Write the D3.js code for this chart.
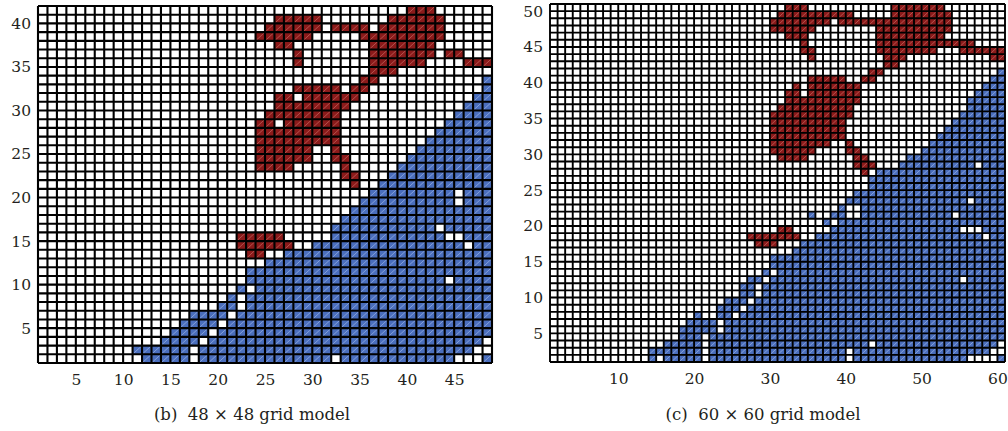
<!DOCTYPE html>
<html lang="en">
<head>
<meta charset="UTF-8">
<title>Grid models</title>
<style>
  body { margin: 0; background: #fff; }
  svg { display: block; }
  text { font-family: "DejaVu Serif", "Liberation Serif", serif; fill: #231f20; }
</style>
</head>
<body>
<script src="https://d3js.org/d3.v7.min.js"></script>
<div id="chart"></div>
<script>
// grid (b) 48 x 48 : runs are [row, firstCol, lastCol], holes are [row, col]
const nColsB = 48, nRowsB = 41;
const xTicksB = [5, 10, 15, 20, 25, 30, 35, 40, 45];
const yTicksB = [5, 10, 15, 20, 25, 30, 35, 40];
const redRunsB = [
  [41,40,42],
  [40,26,30],[40,38,43],
  [39,25,30],[39,32,35],[39,37,43],
  [38,24,29],[38,35,43],
  [37,26,27],[37,36,42],
  [36,28,28],[36,36,42],[36,44,45],
  [35,28,28],[35,36,41],[35,46,48],
  [34,36,38],
  [33,35,36],
  [32,28,32],[32,34,35],
  [31,26,27],[31,29,34],
  [30,26,33],
  [29,25,32],
  [28,24,25],[28,27,32],
  [27,24,32],
  [26,24,32],
  [25,24,29],[25,32,32],
  [24,24,29],[24,32,33],
  [23,24,27],[23,33,33],
  [22,33,34],
  [21,34,34],
  [15,22,26],
  [14,22,27],
  [13,23,24]
];
const blueRunsB = [
  [1,12,16],[1,18,48],
  [2,11,16],[2,18,48],
  [3,14,17],[3,19,48],
  [4,15,18],[4,20,48],
  [5,16,19],[5,21,48],
  [6,17,20],[6,22,48],
  [7,20,21],[7,23,48],
  [8,21,21],[8,23,48],
  [9,22,22],[9,24,48],
  [10,23,48],[11,23,48],[12,25,48],[13,27,48],[14,30,48],
  [15,32,48],[16,32,48],[17,33,48],[18,34,48],[19,35,48],[20,36,48],
  [21,37,48],[22,38,48],[23,39,48],[24,40,48],[25,41,48],[26,42,48],
  [27,43,48],[28,44,48],[29,45,48],[30,46,48],[31,47,48],[32,48,48],[33,48,48]
];
const holesB = [
  [1,32],[1,45],[1,46],[1,47],[2,47],[2,48],[3,48],
  [10,44],[14,46],[15,44],[15,45],[16,43],[19,45],[20,45]
];

// grid (c) 60 x 60
const nColsC = 60, nRowsC = 50;
const xTicksC = [10, 20, 30, 40, 50, 60];
const yTicksC = [5, 10, 15, 20, 25, 30, 35, 40, 45, 50];
const redRunsC = [
  [50,32,34],[50,46,52],
  [49,31,40],[49,46,53],
  [48,30,37],[48,39,53],
  [47,30,35],[47,44,53],
  [46,32,34],[46,44,52],
  [45,34,34],[45,44,56],
  [44,34,35],[44,44,51],[44,55,60],
  [43,35,35],[43,45,47],[43,59,60],
  [42,45,46],
  [41,43,44],
  [40,35,39],[40,42,43],
  [39,33,33],[39,35,41],
  [38,32,33],[38,35,41],
  [37,32,41],
  [36,31,40],
  [35,30,40],
  [34,30,39],
  [33,30,39],
  [32,30,39],
  [31,30,37],[31,40,40],
  [30,30,35],[30,40,41],
  [29,31,34],[29,41,42],
  [28,41,43],
  [27,42,42],
  [19,31,32],
  [18,27,33],
  [17,28,30]
];
const blueRunsC = [
  [1,14,14],[1,16,20],[1,22,60],
  [2,14,20],[2,22,60],
  [3,16,20],[3,22,60],
  [4,18,20],[4,22,60],
  [5,18,22],[5,24,60],
  [6,19,22],[6,24,60],
  [7,20,20],[7,23,24],[7,26,60],
  [8,23,25],[8,27,60],
  [9,24,26],[9,28,60],
  [10,26,27],[10,29,60],
  [11,26,27],[11,29,60],
  [12,27,28],[12,30,60],
  [13,29,29],[13,31,60],
  [14,30,60],[15,30,60],[16,33,60],[17,34,60],[18,36,60],[19,38,60],
  [20,37,37],[20,39,60],
  [21,35,35],[21,38,39],[21,42,60],
  [22,39,39],[22,42,60],
  [23,40,60],[24,41,60],[25,43,60],[26,43,60],[27,44,60],[28,47,60],
  [29,48,60],[30,50,60],[31,51,60],[32,52,60],[33,53,60],[34,54,60],
  [35,55,60],[36,56,60],[37,56,60],[38,57,60],[39,58,60],[40,59,60],[41,60,60]
];
const holesC = [
  [1,40],[1,56],[1,57],[1,58],[1,59],[2,40],[2,59],[2,60],[3,43],[3,60],
  [12,55],[18,58],[19,55],[19,56],[19,57],[21,54],[23,56],[28,57]
];

const W = 1008, H = 431;
const fills = ["#ffffff", "#8b1a1a", "#4a6ebd"];
const diag = [null, "#c46a63", "#9db4e3"];
const fontFam = '"DejaVu Serif", "Liberation Serif", serif';

const svg = d3.select("#chart").append("svg")
  .attr("width", W)
  .attr("height", H);

function drawGrid(cfg) {
  // build cell states
  const state = [];
  for (let r = 1; r <= cfg.nRows; r++) {
    for (let c = 1; c <= cfg.nCols; c++) state.push({ r: r, c: c, s: 0 });
  }
  const at = (r, c) => state[(r - 1) * cfg.nCols + (c - 1)];
  cfg.blue.forEach(([r, a, b]) => { for (let c = a; c <= b; c++) at(r, c).s = 2; });
  cfg.red.forEach(([r, a, b]) => { for (let c = a; c <= b; c++) at(r, c).s = 1; });
  cfg.holes.forEach(([r, c]) => { at(r, c).s = 0; });

  const x = d3.scaleLinear().domain([1, cfg.nCols + 1]).range([cfg.left, cfg.right]);
  const y = d3.scaleLinear().domain([1, cfg.nRows + 1]).range([cfg.bottom, cfg.top]);

  const g = svg.append("g");

  g.append("g").selectAll("rect")
    .data(state)
    .join("rect")
      .attr("x", d => x(d.c))
      .attr("y", d => y(d.r + 1))
      .attr("width", d => x(d.c + 1) - x(d.c))
      .attr("height", d => y(d.r) - y(d.r + 1))
      .attr("fill", d => fills[d.s]);

  // triangle diagonals of the coloured cells
  g.append("g").selectAll("line")
    .data(state.filter(d => d.s > 0))
    .join("line")
      .attr("x1", d => x(d.c))
      .attr("y1", d => y(d.r))
      .attr("x2", d => x(d.c + 1))
      .attr("y2", d => y(d.r + 1))
      .attr("stroke", d => diag[d.s])
      .attr("stroke-width", 0.7);

  // mesh lines
  const mesh = g.append("g").attr("stroke", "#000").attr("stroke-width", cfg.lw);
  mesh.selectAll("line.v")
    .data(d3.range(1, cfg.nCols + 2))
    .join("line").attr("class", "v")
      .attr("x1", d => x(d)).attr("x2", d => x(d))
      .attr("y1", y(1)).attr("y2", y(cfg.nRows + 1));
  mesh.selectAll("line.h")
    .data(d3.range(1, cfg.nRows + 2))
    .join("line").attr("class", "h")
      .attr("y1", d => y(d)).attr("y2", d => y(d))
      .attr("x1", x(1)).attr("x2", x(cfg.nCols + 1));

  // axes (labels only)
  const ax = g.append("g")
    .attr("transform", `translate(0,${cfg.bottom})`)
    .call(d3.axisBottom(x).tickValues(cfg.xTicks).tickSize(0).tickPadding(11));
  const ay = g.append("g")
    .attr("transform", `translate(${cfg.left},0)`)
    .call(d3.axisLeft(y).tickValues(cfg.yTicks).tickSize(0).tickPadding(7));
  [ax, ay].forEach(a => {
    a.attr("font-family", fontFam).attr("font-size", 15.5);
    a.select(".domain").remove();
    a.selectAll("text").attr("fill", "#231f20");
  });

  g.append("text")
    .attr("x", cfg.capX)
    .attr("y", 420)
    .attr("text-anchor", "middle")
    .attr("font-family", fontFam)
    .attr("font-size", 16.5)
    .text(cfg.caption);
}

drawGrid({
  nCols: nColsB, nRows: nRowsB, red: redRunsB, blue: blueRunsB, holes: holesB,
  xTicks: xTicksB, yTicks: yTicksB,
  left: 38, right: 492, top: 6, bottom: 363, lw: 2.1,
  caption: "(b)\u00a0\u00a048 \u00d7 48 grid model", capX: 252
});

drawGrid({
  nCols: nColsC, nRows: nRowsC, red: redRunsC, blue: blueRunsC, holes: holesC,
  xTicks: xTicksC, yTicks: yTicksC,
  left: 550, right: 1005, top: 4, bottom: 362, lw: 1.9,
  caption: "(c)\u00a0\u00a060 \u00d7 60 grid model", capX: 763
});
</script>
</body>
</html>
